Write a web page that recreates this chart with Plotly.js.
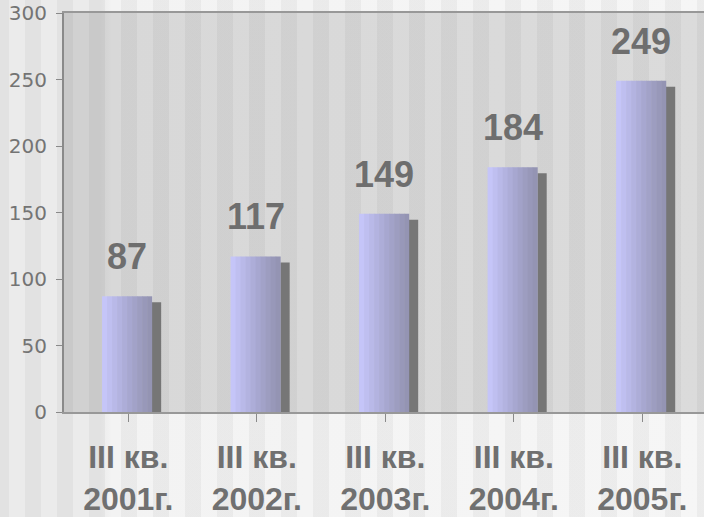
<!DOCTYPE html>
<html><head><meta charset="utf-8">
<script src="https://cdn.plot.ly/plotly-3.0.1.min.js"></script>
<style>
html,body{margin:0;padding:0;}
#chart{width:704px;height:517px;
background:
 repeating-linear-gradient(90deg, rgba(0,0,0,0.04) 0 9px, rgba(0,0,0,0) 9px 25px, rgba(0,0,0,0.04) 25px 32px),
 linear-gradient(90deg, #ebebeb 0, #ebebeb 100px, #f3f3f3 112px, #f6f6f6 100%);}
</style></head>
<body><div id="chart"></div>
<script>
const quarters = ["III кв.", "III кв.", "III кв.", "III кв.", "III кв."];
const years = ["2001г.", "2002г.", "2003г.", "2004г.", "2005г."];
const values = [87, 117, 149, 184, 249];

const idx = values.map((v, i) => i);
const tickText = quarters.map((q, i) => q + "<br>" + years[i]);

const stripColors = ["#c5c5f8", "#bfbff0", "#b9b9e8", "#b3b3e0", "#adadd8", "#a7a7d0", "#a2a2c8", "#9d9dc0", "#9898b9", "#9494b3"];
const barLeft = -0.204, barWidth = 0.39;
const stripW = barWidth / stripColors.length;

const traces = [];
traces.push({
  type: "bar", x: idx, y: values, base: -4.5,
  offset: barLeft + barWidth - 0.002, width: 0.072,
  marker: {color: "#767676", line: {width: 0}},
  hoverinfo: "skip", showlegend: false
});
stripColors.forEach((c, k) => {
  traces.push({
    type: "bar", x: idx, y: values,
    offset: barLeft + k * stripW,
    width: k === stripColors.length - 1 ? stripW : stripW + 0.004,
    marker: {color: c, line: {width: 0}},
    hoverinfo: "skip", showlegend: false
  });
});

const annotations = values.map((v, i) => ({
  x: i, y: v, xref: "x", yref: "y", text: String(v),
  showarrow: false, yanchor: "bottom", xanchor: "center",
  yshift: 17, xshift: -1,
  font: {family: "Liberation Sans, Arial, sans-serif", size: 36, weight: "bold", color: "#6e6e6e"}
}));

const layout = {
  width: 704, height: 517,
  margin: {l: 64, r: 0, t: 13, b: 105},
  paper_bgcolor: "rgba(0,0,0,0)",
  plot_bgcolor: "rgba(0,0,0,0.11)",
  barmode: "overlay",
  showlegend: false,
  xaxis: {
    range: [-0.5, 4.48], tickvals: idx, ticktext: tickText,
    showgrid: false, zeroline: false,
    showline: true, mirror: true, linecolor: "#989898", linewidth: 2,
    ticks: "outside", tickson: "boundaries", ticklen: 8, tickcolor: "#8a8a8a", tickwidth: 1,
    tickfont: {family: "Liberation Sans, Arial, sans-serif", size: 32, weight: "bold", color: "#707070"},
    ticklabelstandoff: 8,
    fixedrange: true
  },
  yaxis: {
    range: [0, 300], dtick: 50, tick0: 0,
    showgrid: false, zeroline: false,
    showline: true, linecolor: "#8a8a8a", linewidth: 2,
    ticks: "outside", ticklen: 6, tickcolor: "#8a8a8a", tickwidth: 1,
    tickfont: {family: "DejaVu Sans, sans-serif", size: 20, color: "#747474"},
    ticklabelstandoff: 5,
    fixedrange: true
  },
  annotations: annotations
};

Plotly.newPlot("chart", traces, layout, {displayModeBar: false, staticPlot: true});
</script></body></html>
